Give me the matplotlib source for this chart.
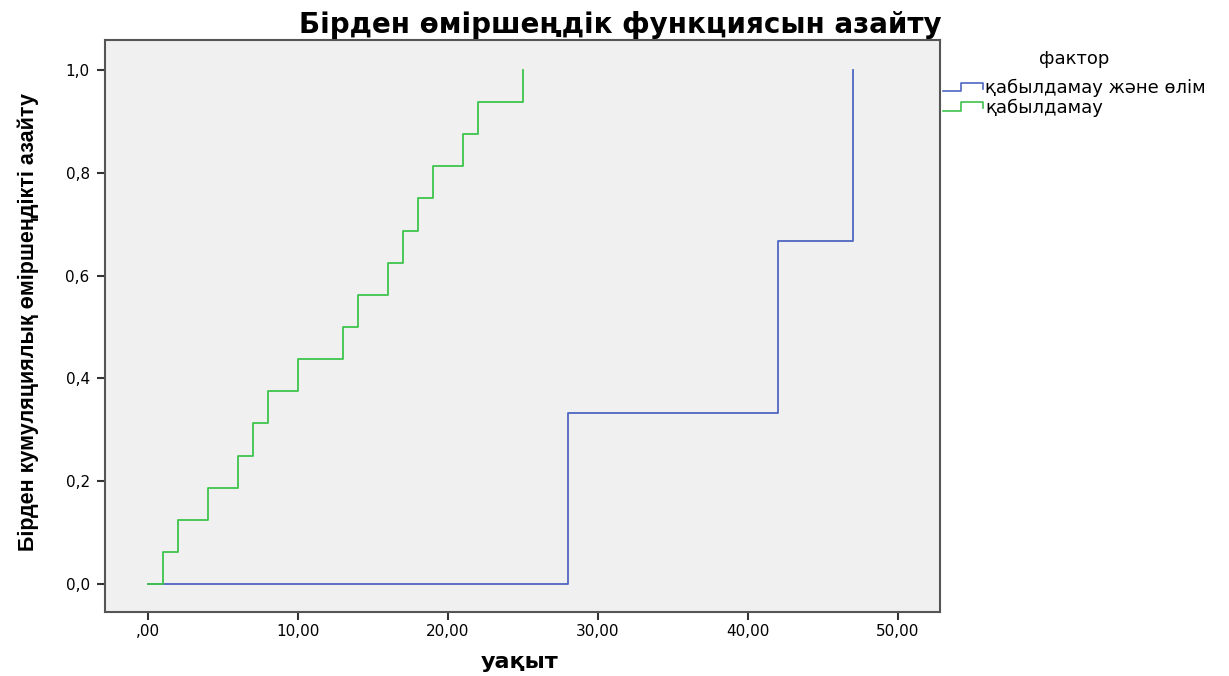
import matplotlib
matplotlib.use("Agg")
import matplotlib.pyplot as plt
from matplotlib.legend_handler import HandlerBase
from matplotlib.lines import Line2D
from matplotlib import font_manager

# data
green_times = [0, 1, 2, 4, 6, 7, 8, 10, 13, 14, 16, 17, 18, 19, 21, 22, 25]
green_values = [0.0, 0.0625, 0.125, 0.1875, 0.25, 0.3125, 0.375, 0.4375, 0.5,
                0.5625, 0.625, 0.6875, 0.75, 0.8125, 0.875, 0.9375, 1.0]
blue_times = [0, 28, 42, 47]
blue_values = [0.0, 0.333, 0.667, 1.0]

series_labels = ["қабылдамау және өлім", "қабылдамау"]
legend_title = "фактор"
title = "Бірден өміршеңдік функциясын азайту"
xlabel = "уақыт"
ylabel = "Бірден кумуляциялық өміршеңдікті азайту"

x_ticks = [0, 10, 20, 30, 40, 50]
x_ticklabels = [",00", "10,00", "20,00", "30,00", "40,00", "50,00"]
y_ticks = [0.0, 0.2, 0.4, 0.6, 0.8, 1.0]
y_ticklabels = ["0,0", "0,2", "0,4", "0,6", "0,8", "1,0"]

BLUE = "#4f66c2"
GREEN = "#3ec44c"

names = {f.name for f in font_manager.fontManager.ttflist}
narrow = "Liberation Sans Narrow" if "Liberation Sans Narrow" in names else "Liberation Sans"


class StepHandler(HandlerBase):
    def create_artists(self, legend, orig_handle, xdescent, ydescent,
                       width, height, fontsize, trans):
        w, h = width, height
        x0 = -xdescent
        xs = [x0, x0 + 0.45 * w, x0 + 0.45 * w, x0 + w, x0 + w]
        ys = [0.15 * h, 0.15 * h, 0.85 * h, 0.85 * h, 0.35 * h]
        line = Line2D(xs, ys, color=orig_handle.get_color(), lw=1.2, transform=trans)
        return [line]


fig = plt.figure(figsize=(12.29, 6.76), dpi=100)
ax = fig.add_axes([105 / 1229, 1 - 612 / 676, (940 - 105) / 1229, (612 - 40) / 676])
ax.set_facecolor("#f0f0f0")

l1, = ax.step(blue_times, blue_values, where="post", color=BLUE, lw=1.3)
l2, = ax.step(green_times, green_values, where="post", color=GREEN, lw=1.3)

ax.set_xlim(-2.87, 52.8)
ax.set_ylim(-0.054, 1.058)
ax.set_xticks(x_ticks)
ax.set_xticklabels(x_ticklabels, fontsize=11, family="DejaVu Sans")
ax.set_yticks(y_ticks)
ax.set_yticklabels(y_ticklabels, fontsize=11, family="DejaVu Sans")
ax.tick_params(direction="out", length=6, width=1.5, color="#333333", pad=3)
ax.tick_params(axis="y", pad=5)
for s in ax.spines.values():
    s.set_color("#555555")
    s.set_linewidth(1.5)

fig.text(520 / 1229, 1 - 662 / 676, xlabel, fontsize=16, fontweight="bold",
         family="DejaVu Sans", ha="center", va="center")
fig.text(28 / 1229, 1 - 322 / 676, ylabel, fontsize=15.5, fontweight="bold",
         family=narrow, ha="center", va="center", rotation=90)
fig.text(620 / 1229, 1 - 25 / 676, title, fontsize=20, fontweight="bold",
         family="DejaVu Sans", ha="center", va="center")

leg = fig.legend([l1, l2], series_labels, title=legend_title, loc="upper left",
                 bbox_to_anchor=(943 / 1229, 1 - 50 / 676), frameon=False,
                 handler_map={Line2D: StepHandler()}, handlelength=2.2,
                 handletextpad=0.15, labelspacing=0.05, borderaxespad=0,
                 borderpad=0, prop={"family": "DejaVu Sans", "size": 13},
                 title_fontproperties={"family": "DejaVu Sans", "size": 13})
leg._legend_box.sep = 8

fig.savefig("out.png", dpi=100)
